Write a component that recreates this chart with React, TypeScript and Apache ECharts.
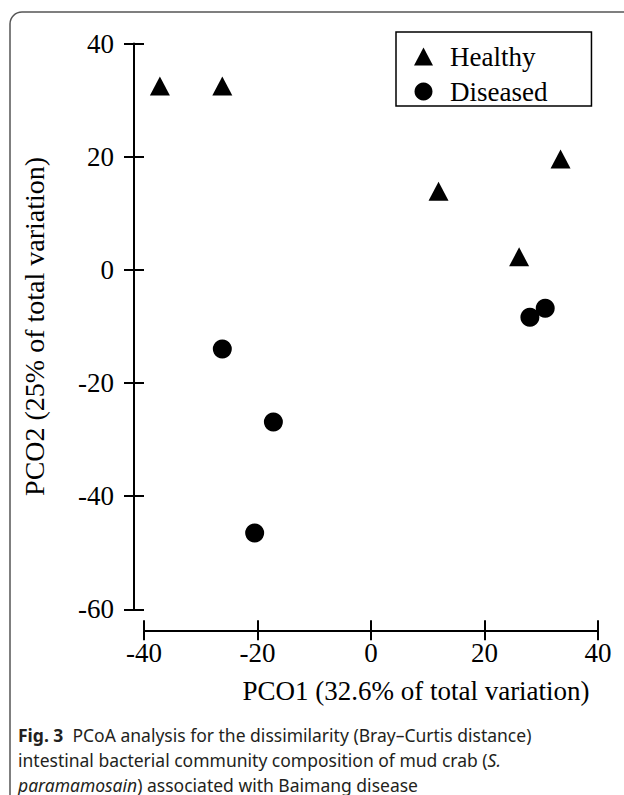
import React, { useEffect, useRef } from "react";
import * as echarts from "echarts";

const seriesNames = ["Healthy", "Diseased"];
const healthyX = [-37.2, -26.2, 11.9, 26.1, 33.4];
const healthyY = [32.5, 32.5, 13.9, 2.3, 19.6];
const diseasedX = [-26.2, -17.2, -20.5, 28.0, 30.7];
const diseasedY = [-14.0, -26.9, -46.5, -8.4, -6.8];
const xTicks = { min: -40, max: 40, interval: 20 };
const yTicks = { min: -60, max: 40, interval: 20 };
const xTitle = "PCO1 (32.6% of total variation)";
const yTitle = "PCO2 (25% of total variation)";
const captionLines = [
  "{b|Fig. 3}  PCoA analysis for the dissimilarity (Bray\u2013Curtis distance)",
  "intestinal bacterial community composition of mud crab ({i|S.}",
  "{i|paramamosain}) associated with Baimang disease",
];

const SERIF = "'Liberation Serif', 'Times New Roman', serif";
const SANS = "'Noto Sans', 'Open Sans', sans-serif";

export default function App() {
  const ref = useRef<HTMLDivElement>(null);
  useEffect(() => {
    if (!ref.current) return;
    const chart = echarts.init(ref.current, undefined, { renderer: "svg" });
    const pair = (xs: number[], ys: number[]) => xs.map((x, i) => [x, ys[i]]);
    const axisLineStyle = { color: "#000", width: 2 };
    const baseX = {
      type: "value",
      ...xTicks,
      position: "bottom",
      offset: 21,
      splitLine: { show: false },
    };
    const baseY = {
      type: "value",
      ...yTicks,
      position: "left",
      offset: 10,
      splitLine: { show: false },
    };
    chart.setOption({
      animation: false,
      grid: { left: 144, right: 26, top: 43.5, bottom: 185.7, outerBoundsMode: "none" },
      xAxis: [
        {
          ...baseX,
          axisLine: { show: true, onZero: false, lineStyle: axisLineStyle },
          axisTick: { show: true, length: 10, lineStyle: axisLineStyle },
          axisLabel: { color: "#000", fontFamily: SERIF, fontSize: 27, margin: 9 },
          name: xTitle,
          nameLocation: "middle",
          nameGap: 47,
          nameTextStyle: { color: "#000", fontFamily: SERIF, fontSize: 27, padding: [0, 0, 0, 90] },
        },
        {
          ...baseX,
          axisLine: { show: false, onZero: false },
          axisTick: { show: true, inside: true, length: 10, lineStyle: axisLineStyle },
          axisLabel: { show: false },
        },
      ],
      yAxis: [
        {
          ...baseY,
          axisLine: { show: true, onZero: false, lineStyle: axisLineStyle },
          axisTick: { show: true, length: 10, lineStyle: axisLineStyle },
          axisLabel: { color: "#000", fontFamily: SERIF, fontSize: 27, margin: 20 },
          name: yTitle,
          nameLocation: "middle",
          nameGap: 86,
          nameRotate: 90,
          nameTextStyle: { color: "#000", fontFamily: SERIF, fontSize: 28 },
        },
        {
          ...baseY,
          axisLine: { show: false, onZero: false },
          axisTick: { show: true, inside: true, length: 10, lineStyle: axisLineStyle },
          axisLabel: { show: false },
        },
      ],
      legend: {
        data: seriesNames,
        orient: "vertical",
        left: 396,
        top: 32,
        padding: [11, 44, 1, 18],
        itemWidth: 19,
        itemHeight: 18,
        itemGap: 8,
        borderColor: "#000",
        borderWidth: 1.5,
        textStyle: { color: "#000", fontFamily: SERIF, fontSize: 27, lineHeight: 27, padding: [0, 0, 0, 12] },
      },
      series: [
        {
          name: seriesNames[0],
          type: "scatter",
          symbol: "triangle",
          symbolSize: [20, 19],
          itemStyle: { color: "#000", opacity: 1 },
          data: pair(healthyX, healthyY),
        },
        {
          name: seriesNames[1],
          type: "scatter",
          symbol: "circle",
          symbolSize: 19,
          itemStyle: { color: "#000", opacity: 1 },
          data: pair(diseasedX, diseasedY),
        },
      ],
      graphic: [
        {
          type: "rect",
          shape: { x: 10, y: 12, width: 700, height: 900, r: 12 },
          style: { fill: "none", stroke: "#555", lineWidth: 1.5 },
          silent: true,
        },
        {
          type: "text",
          left: 18,
          top: 722,
          style: {
            text: captionLines.join("\n"),
            fontFamily: SANS,
            fontSize: 17.5,
            lineHeight: 25,
            fill: "#231f20",
            rich: {
              b: { fontFamily: SANS, fontSize: 17.5, fontWeight: "bold", fill: "#231f20", lineHeight: 25 },
              i: { fontFamily: SANS, fontSize: 17.5, fontStyle: "italic", fill: "#231f20", lineHeight: 25 },
            },
          },
        },
      ],
    });
    return () => chart.dispose();
  }, []);
  return (
    <div
      ref={ref}
      style={{ position: "fixed", left: 0, top: 0, width: 624, height: 795, background: "#fff" }}
    />
  );
}
